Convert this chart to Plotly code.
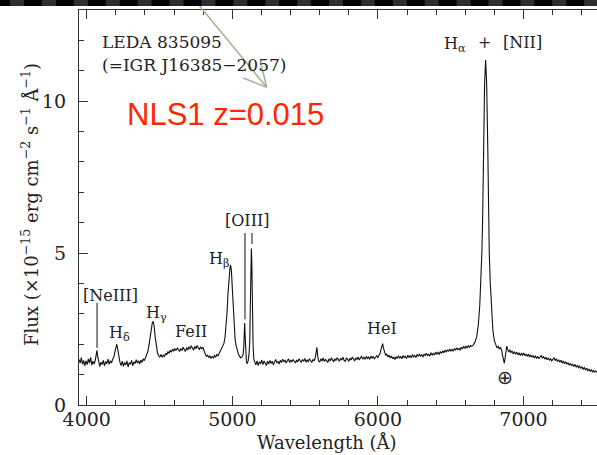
import plotly.graph_objects as go

# Optical spectrum of LEDA 835095: observed wavelength (Angstrom) and flux (1e-15 erg/cm2/s/A)
WAVELENGTH = [
    3947, 3955, 3963, 3971, 3979, 3987, 3995, 4003, 4011, 4019, 4027, 4035, 4043, 4051, 4059,
    4065, 4070, 4075, 4082, 4090, 4098, 4106, 4114, 4122, 4130, 4138, 4146, 4154, 4162, 4170,
    4178, 4186, 4194, 4201, 4207, 4213, 4220, 4228, 4236, 4244, 4252, 4260, 4268, 4276, 4284,
    4292, 4300, 4308, 4316, 4324, 4332, 4340, 4348, 4356, 4364, 4372, 4380, 4388, 4396, 4404,
    4412, 4420, 4428, 4436, 4444, 4451, 4457, 4463, 4470, 4478, 4486, 4494, 4502, 4510, 4518,
    4526, 4534, 4542, 4550, 4558, 4566, 4574, 4582, 4590, 4598, 4606, 4614, 4622, 4630, 4638,
    4646, 4654, 4662, 4670, 4678, 4686, 4694, 4702, 4710, 4718, 4726, 4734, 4742, 4750, 4758,
    4766, 4774, 4782, 4790, 4798, 4806, 4814, 4822, 4830, 4838, 4846, 4854, 4862, 4870, 4878,
    4886, 4894, 4902, 4910, 4918, 4926, 4934, 4942, 4950, 4957, 4964, 4971, 4978, 4984, 4989,
    4994, 5000, 5006, 5012, 5019, 5026, 5034, 5042, 5050, 5058, 5066, 5074, 5079, 5082, 5085,
    5088, 5092, 5097, 5103, 5109, 5115, 5120, 5125, 5129, 5131, 5134, 5138, 5143, 5148, 5155,
    5162, 5170, 5178, 5186, 5194, 5202, 5210, 5218, 5226, 5234, 5242, 5250, 5258, 5266, 5274,
    5282, 5290, 5298, 5306, 5314, 5322, 5330, 5338, 5346, 5354, 5362, 5370, 5378, 5386, 5394,
    5402, 5410, 5418, 5426, 5434, 5442, 5450, 5458, 5466, 5474, 5482, 5490, 5498, 5506, 5514,
    5522, 5530, 5538, 5546, 5554, 5562, 5570, 5576, 5581, 5586, 5592, 5600, 5608, 5616, 5624,
    5632, 5640, 5648, 5656, 5664, 5672, 5680, 5688, 5696, 5704, 5712, 5720, 5728, 5736, 5744,
    5752, 5760, 5768, 5776, 5784, 5792, 5800, 5808, 5816, 5824, 5832, 5840, 5848, 5856, 5864,
    5872, 5880, 5888, 5896, 5904, 5912, 5920, 5928, 5936, 5944, 5952, 5960, 5968, 5976, 5984,
    5992, 6000, 6008, 6016, 6023, 6029, 6033, 6038, 6045, 6053, 6061, 6069, 6077, 6085, 6093,
    6101, 6109, 6117, 6125, 6133, 6141, 6149, 6157, 6165, 6173, 6181, 6189, 6197, 6205, 6213,
    6221, 6229, 6237, 6245, 6253, 6261, 6269, 6277, 6285, 6293, 6301, 6309, 6317, 6325, 6333,
    6341, 6349, 6357, 6365, 6373, 6381, 6389, 6397, 6405, 6413, 6421, 6429, 6437, 6445, 6453,
    6461, 6469, 6477, 6485, 6493, 6501, 6509, 6517, 6525, 6533, 6541, 6549, 6557, 6565, 6573,
    6581, 6589, 6597, 6605, 6613, 6621, 6629, 6637, 6645, 6656, 6668, 6679, 6690, 6700, 6708,
    6714, 6719, 6725, 6733, 6740, 6747, 6755, 6760, 6765, 6772, 6781, 6790, 6800, 6810, 6818,
    6826, 6834, 6842, 6850, 6857, 6863, 6868, 6873, 6879, 6885, 6891, 6898, 6906, 6914, 6922,
    6930, 6938, 6946, 6954, 6962, 6970, 6978, 6986, 6994, 7002, 7010, 7018, 7026, 7034, 7042,
    7050, 7058, 7066, 7074, 7082, 7090, 7098, 7106, 7114, 7122, 7130, 7138, 7146, 7154, 7162,
    7170, 7178, 7186, 7194, 7202, 7210, 7218, 7226, 7234, 7242, 7250, 7258, 7266, 7274, 7282,
    7290, 7298, 7306, 7314, 7322, 7330, 7338, 7346, 7354, 7362, 7370, 7378, 7386, 7394, 7402,
    7410, 7418, 7426, 7434, 7442, 7450, 7458, 7466, 7474, 7482, 7490, 7498, 7506,
]
FLUX = [
    1.50, 1.38, 1.56, 1.34, 1.47, 1.29, 1.45, 1.33, 1.52, 1.38, 1.57, 1.31, 1.44, 1.35, 1.48,
    1.62, 1.80, 1.60, 1.40, 1.26, 1.41, 1.33, 1.47, 1.29, 1.43, 1.36, 1.51, 1.34, 1.46, 1.38,
    1.50, 1.58, 1.76, 1.95, 2.00, 1.84, 1.58, 1.41, 1.30, 1.44, 1.27, 1.40, 1.32, 1.45, 1.25,
    1.39, 1.34, 1.47, 1.29, 1.42, 1.36, 1.49, 1.38, 1.46, 1.35, 1.48, 1.40, 1.52, 1.46, 1.55,
    1.62, 1.76, 1.98, 2.30, 2.58, 2.72, 2.74, 2.60, 2.25, 1.92, 1.72, 1.62, 1.58, 1.66, 1.57,
    1.64, 1.60, 1.70, 1.65, 1.76, 1.70, 1.80, 1.74, 1.84, 1.77, 1.86, 1.79, 1.88, 1.81, 1.76,
    1.86, 1.79, 1.90, 1.82, 1.76, 1.89, 1.81, 1.92, 1.84, 1.95, 1.86, 1.80, 1.93, 1.85, 1.96,
    1.87, 1.82, 1.92, 1.85, 1.90, 1.76, 1.68, 1.60, 1.64, 1.56, 1.62, 1.53, 1.60, 1.55, 1.63,
    1.58, 1.66, 1.62, 1.70, 1.75, 1.82, 1.90, 2.02, 2.22, 2.55, 3.05, 3.70, 4.20, 4.52, 4.60,
    4.40, 3.85, 3.15, 2.60, 2.18, 1.95, 1.80, 1.68, 1.60, 1.55, 1.58, 1.66, 1.92, 2.35, 2.70,
    2.30, 1.70, 1.42, 1.36, 1.46, 1.70, 2.10, 3.60, 4.85, 5.15, 4.70, 3.20, 1.95, 1.50, 1.40,
    1.32, 1.45, 1.30, 1.42, 1.36, 1.48, 1.33, 1.45, 1.38, 1.30, 1.44, 1.35, 1.47, 1.37, 1.44,
    1.32, 1.42, 1.50, 1.38, 1.44, 1.35, 1.47, 1.40, 1.51, 1.42, 1.48, 1.38, 1.45, 1.52, 1.40,
    1.48, 1.42, 1.50, 1.44, 1.38, 1.48, 1.42, 1.52, 1.45, 1.40, 1.50, 1.44, 1.53, 1.41, 1.48,
    1.43, 1.52, 1.46, 1.40, 1.50, 1.45, 1.55, 1.68, 1.90, 1.64, 1.46, 1.41, 1.52, 1.45, 1.55,
    1.43, 1.50, 1.46, 1.40, 1.52, 1.45, 1.55, 1.48, 1.42, 1.52, 1.46, 1.56, 1.48, 1.44, 1.54,
    1.48, 1.57, 1.47, 1.44, 1.55, 1.50, 1.44, 1.54, 1.48, 1.58, 1.50, 1.45, 1.55, 1.50, 1.58,
    1.48, 1.55, 1.60, 1.51, 1.57, 1.50, 1.60, 1.53, 1.58, 1.50, 1.61, 1.54, 1.60, 1.52, 1.58,
    1.62, 1.56, 1.64, 1.72, 1.86, 1.98, 2.02, 1.88, 1.72, 1.63, 1.68, 1.58, 1.64, 1.55, 1.61,
    1.52, 1.58, 1.50, 1.59, 1.53, 1.62, 1.54, 1.60, 1.52, 1.63, 1.56, 1.60, 1.53, 1.64, 1.57,
    1.62, 1.55, 1.66, 1.58, 1.63, 1.56, 1.66, 1.60, 1.68, 1.61, 1.65, 1.58, 1.68, 1.62, 1.70,
    1.63, 1.67, 1.61, 1.72, 1.65, 1.70, 1.64, 1.74, 1.68, 1.73, 1.66, 1.76, 1.70, 1.78, 1.72,
    1.80, 1.74, 1.82, 1.76, 1.84, 1.78, 1.83, 1.77, 1.86, 1.80, 1.88, 1.82, 1.86, 1.80, 1.90,
    1.85, 1.92, 1.86, 1.94, 1.88, 1.95, 1.90, 1.96, 1.93, 1.98, 2.08, 2.25, 2.65, 3.30, 4.10,
    5.00, 6.00, 8.40, 10.60, 11.35, 10.60, 8.40, 6.00, 5.00, 4.00, 3.30, 2.45, 2.12, 1.95, 1.88,
    1.93, 1.84, 1.90, 1.80, 1.62, 1.48, 1.38, 1.52, 1.78, 1.94, 1.84, 1.74, 1.82, 1.72, 1.78,
    1.68, 1.75, 1.67, 1.74, 1.65, 1.72, 1.63, 1.70, 1.64, 1.71, 1.62, 1.68, 1.60, 1.67, 1.58,
    1.65, 1.57, 1.63, 1.55, 1.61, 1.54, 1.60, 1.52, 1.58, 1.63, 1.54, 1.60, 1.51, 1.57, 1.49,
    1.55, 1.47, 1.53, 1.45, 1.51, 1.56, 1.46, 1.52, 1.43, 1.49, 1.41, 1.47, 1.38, 1.45, 1.36,
    1.42, 1.34, 1.40, 1.31, 1.37, 1.29, 1.35, 1.27, 1.33, 1.25, 1.30, 1.23, 1.28, 1.20, 1.26,
    1.18, 1.23, 1.15, 1.21, 1.13, 1.18, 1.11, 1.16, 1.09, 1.14, 1.08, 1.12, 1.07,
]

X_TICKS = [4000, 5000, 6000, 7000]
Y_TICKS = [0, 5, 10]

SERIF = "DejaVu Serif"
INK = "#222222"
AXIS = "#333333"

fig = go.Figure(
    go.Scatter(
        x=WAVELENGTH, y=FLUX, mode="lines",
        line=dict(color="#111111", width=1.1),
        hoverinfo="skip", showlegend=False,
    )
)

# plot area: x from 79 to 597 px, y from 10 to 405 px
L, T, W, H = 79, 10, 518, 395


def px(xp, yp):
    """pixel position -> paper coordinates"""
    return (xp - L) / W, (T + H - yp) / H


shapes = []
annotations = []


def label(text, x, y, size=16, xanchor="center", **kw):
    annotations.append(dict(
        x=x, y=y, xref="x", yref="y", text=text, showarrow=False,
        xanchor=xanchor, yanchor="middle",
        font=dict(family=SERIF, size=size, color=INK), **kw))


def tick_mark(x, y0, y1):
    shapes.append(dict(type="line", xref="x", yref="y", x0=x, x1=x, y0=y0, y1=y1,
                       line=dict(color=INK, width=1.1)))


# emission-line identifications
label("[NeIII]", 4160, 3.62)
tick_mark(4071, 1.88, 3.36)
label("H<sub>δ</sub>", 4228, 2.35)
label("H<sub>γ</sub>", 4478, 3.02)
label("FeII", 4717, 2.41)
label("H<sub>β</sub>", 4912, 4.78)
label("[OIII]", 5102, 6.06)
tick_mark(5087, 2.82, 5.66)
tick_mark(5135, 5.30, 5.66)
label("HeI", 6028, 2.53)
label("H<sub>α</sub>", 6530, 11.85)
label("+", 6735, 11.94)
label("[NII]", 6990, 11.94)
annotations.append(dict(x=6873, y=0.93, xref="x", yref="y", text="⊕", showarrow=False,
                        font=dict(family="DejaVu Sans", size=19, color=INK)))

# object name
label("LEDA 835095", 4090, 11.96, size=17, xanchor="left")
label("(=IGR J16385−2057)", 4090, 11.19, size=17, xanchor="left")

# classification
annotations.append(dict(x=4262, y=9.55, xref="x", yref="y", text="NLS1 z=0.015",
                        showarrow=False, xanchor="left", yanchor="middle",
                        font=dict(family="Liberation Sans", size=31, color="#ff2600")))

# axis titles
ax, ay = px(327, 442)
annotations.append(dict(x=ax, y=ay, xref="paper", yref="paper", text="Wavelength (Å)",
                        showarrow=False, xanchor="center", yanchor="middle",
                        font=dict(family=SERIF, size=18, color=INK)))
ax, ay = px(30, 205)
annotations.append(dict(
    x=ax, y=ay, xref="paper", yref="paper", textangle=-90,
    text="Flux (×10<sup>−15</sup> erg cm<sup>−2</sup> s<sup>−1</sup> Å<sup>−1</sup>)",
    showarrow=False, xanchor="center", yanchor="middle",
    font=dict(family=SERIF, size=18, color=INK)))

# pointer arrow
ARROW = "#a3b596"
for (x0, y0), (x1, y1) in [((193, -2), (266.7, 87.3)),
                           ((243.3, 78.0), (266.7, 87.3)),
                           ((261.5, 65.5), (266.7, 87.3))]:
    a0, b0 = px(x0, y0)
    a1, b1 = px(x1, y1)
    shapes.append(dict(type="line", xref="paper", yref="paper", x0=a0, y0=b0, x1=a1, y1=b1,
                       line=dict(color=ARROW, width=1.6)))

# window bar along the top edge
bx0, by0 = px(0, 0)
bx1, by1 = px(597, 6)
shapes.append(dict(type="rect", xref="paper", yref="paper", x0=bx0, x1=bx1, y0=by1, y1=by0,
                   fillcolor="#000000", line=dict(width=0), layer="above"))
for k in range(19):
    s = 10 + 31.9 * k
    gx0, _ = px(s, 0)
    gx1, _ = px(min(s + 14, 597), 0)
    shapes.append(dict(type="rect", xref="paper", yref="paper", x0=gx0, x1=gx1, y0=by1, y1=by0,
                       fillcolor="#2e2e2e", line=dict(width=0), layer="above"))

tickfont = dict(family=SERIF, size=19, color=INK)
fig.update_layout(
    width=597, height=455,
    margin=dict(l=L, r=0, t=T, b=455 - T - H, pad=0),
    paper_bgcolor="white", plot_bgcolor="white",
    showlegend=False,
    shapes=shapes, annotations=annotations,
    xaxis=dict(
        range=[3947, 7505], tickvals=X_TICKS, ticks="inside", ticklen=9, tickwidth=1.2,
        tickcolor=AXIS, showline=True, linecolor=AXIS, linewidth=1.3, mirror="ticks",
        showgrid=False, zeroline=False, tickfont=tickfont, ticklabelstandoff=-3,
        minor=dict(tick0=4000, dtick=200, ticks="inside", ticklen=4.5, tickwidth=1.1,
                   tickcolor=AXIS, showgrid=False),
    ),
    yaxis=dict(
        range=[0, 13], tickvals=Y_TICKS, ticks="inside", ticklen=9, tickwidth=1.2,
        tickcolor=AXIS, showline=True, linecolor=AXIS, linewidth=1.3,
        showgrid=False, zeroline=False, tickfont=tickfont, ticklabelstandoff=8,
        minor=dict(tick0=0, dtick=1, ticks="inside", ticklen=4.5, tickwidth=1.1,
                   tickcolor=AXIS, showgrid=False),
    ),
)

fig.write_html("out.html")
